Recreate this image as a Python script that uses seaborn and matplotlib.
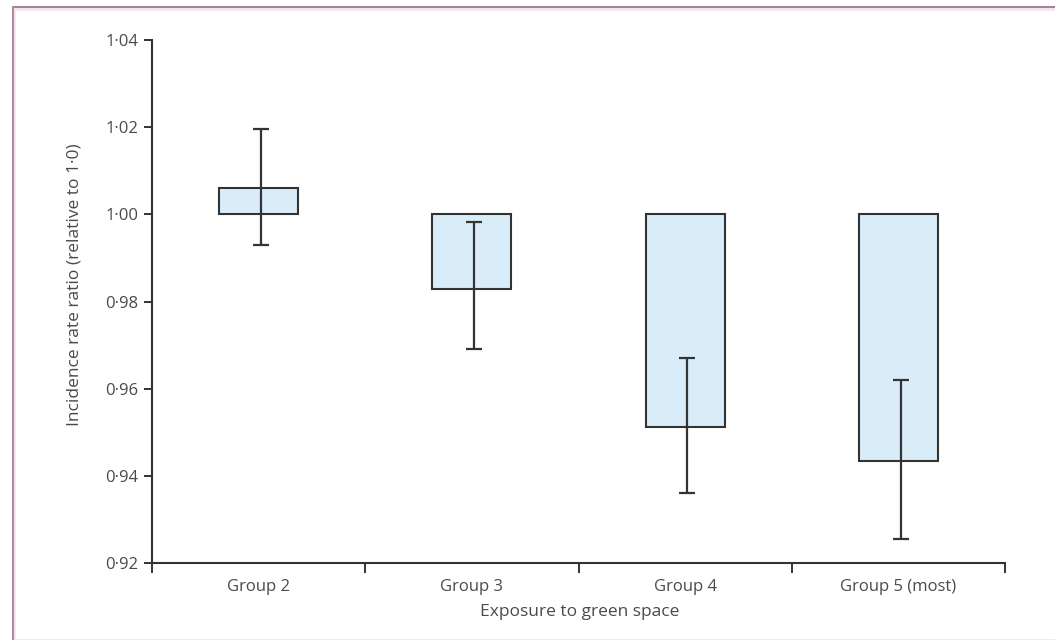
import matplotlib
matplotlib.use("Agg")
import matplotlib.pyplot as plt
from matplotlib.patches import Rectangle
import matplotlib.lines as mlines
import pandas as pd
import seaborn as sns

# values
groups = ["Group 2", "Group 3", "Group 4", "Group 5 (most)"]
irr = [1.006, 0.9828, 0.9511, 0.9433]
ci_low = [0.9929, 0.969, 0.936, 0.9254]
ci_high = [1.0195, 0.9982, 0.967, 0.9619]
yticks = [0.92, 0.94, 0.96, 0.98, 1.00, 1.02, 1.04]

df = pd.DataFrame({"group": groups, "irr": irr, "lo": ci_low, "hi": ci_high})
df["height"] = df["irr"] - 1.0

sns.set_style("white")
plt.rcParams["font.family"] = ["Open Sans", "DejaVu Sans"]
text_col = "#4a4a4a"

fig = plt.figure(figsize=(10.55, 6.4), dpi=100)
ax = fig.add_axes([152 / 1055, 1 - 563 / 640, (1005 - 152) / 1055, (563 - 40) / 640])

# bars start at 1.0 and go up or down to the ratio
sns.barplot(data=df, x="group", y="height", bottom=1.0, width=0.37,
            color="#d9edf9", edgecolor="#333333", linewidth=1.5,
            saturation=1, ax=ax)

# confidence intervals
x_pos = range(len(df))
ax.errorbar([x + 0.01 for x in x_pos], df["irr"],
            yerr=[df["irr"] - df["lo"], df["hi"] - df["irr"]],
            fmt="none", ecolor="#333333", elinewidth=1.6, capsize=6, capthick=1.6)

ax.set_xlim(-0.5, 3.5)
ax.set_ylim(0.92, 1.04)
ax.set_yticks(yticks)
ax.set_yticklabels([f"{v:.2f}".replace(".", "\u00b7") for v in yticks],
                   fontsize=12, color=text_col)

# category ticks sit on the boundaries
ax.set_xticks([-0.5, 0.5, 1.5, 2.5, 3.5])
ax.set_xticklabels([])
ax.tick_params(axis="x", bottom=True, direction="out", length=7, width=1.4, color="#333333")
ax.tick_params(axis="y", left=True, direction="out", length=6, width=1.4, color="#333333", pad=4)
for i, g in enumerate(groups):
    ax.text(i, 0.9145, g, ha="center", va="center", fontsize=12, color=text_col)

for s in ["top", "right"]:
    ax.spines[s].set_visible(False)
for s in ["left", "bottom"]:
    ax.spines[s].set_color("#333333")
    ax.spines[s].set_linewidth(1.5)

ax.set_xlabel("")
fig.text(580 / 1055, 1 - 612 / 640, "Exposure to green space", ha="center", va="center",
         fontsize=12.5, color=text_col)
fig.text(75 / 1055, 1 - 285 / 640, "Incidence rate ratio (relative to 1\u00b70)", ha="center",
         va="center", rotation=90, fontsize=12.5, color=text_col)
ax.set_ylabel("")

# page frame
fig.add_artist(mlines.Line2D([13 / 1055, 1], [1 - 7 / 640, 1 - 7 / 640],
                             transform=fig.transFigure, color="#a08796", lw=1.5))
fig.add_artist(mlines.Line2D([13 / 1055, 13 / 1055], [1 - 7 / 640, 0],
                             transform=fig.transFigure, color="#b08aa0", lw=1.5))
fig.add_artist(Rectangle((14 / 1055, 0), 1, 1 - 9 / 640, transform=fig.transFigure,
                         facecolor="none", edgecolor="#f6e6f2", lw=2))

fig.savefig("out.png", dpi=100)
